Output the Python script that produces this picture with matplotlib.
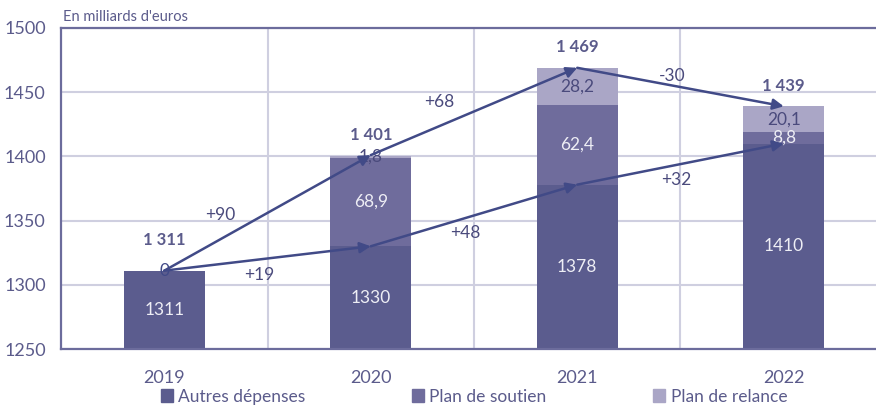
"""Autres dépenses / plan de soutien / plan de relance, 2019-2022."""
import matplotlib.pyplot as plt
from matplotlib.patches import Patch

plt.rcParams["font.family"] = ["Lato", "DejaVu Sans"]

years = ["2019", "2020", "2021", "2022"]
autres = [1311, 1330, 1378, 1410]
soutien = [0, 68.9, 62.4, 8.8]
relance = [0, 1.8, 28.2, 20.1]
totals = [1311, 1401, 1469, 1439]
total_labels = ["1 311", "1 401", "1 469", "1 439"]
soutien_labels = ["0", "68,9", "62,4", "8,8"]
relance_labels = ["", "1,8", "28,2", "20,1"]
# deltas: (label, x position, y position)
deltas_total = [("+90", 0.27, 1354), ("+68", 1.33, 1442), ("-30", 2.46, 1463)]
deltas_autres = [("+19", 0.46, 1308), ("+48", 1.46, 1340), ("+32", 2.48, 1382)]

C_AUTRES = "#5b5c8e"
C_SOUTIEN = "#6f6c9c"
C_RELANCE = "#aaa6c6"
C_LINE = "#414a87"
C_TEXT = "#5b5b8b"
C_GRID = "#cfcfe0"
C_SPINE = "#6c6c9c"

fig = plt.figure(figsize=(8.76, 4.08), dpi=100)
ax = fig.add_axes([61 / 876, 1 - 349 / 408, 1 - 61 / 876, (349 - 28) / 408])

x = list(range(len(years)))
w = 0.39
ax.bar(x, autres, w, color=C_AUTRES, zorder=2)
ax.bar(x, soutien, w, bottom=autres, color=C_SOUTIEN, zorder=2)
bottom2 = [a + s for a, s in zip(autres, soutien)]
ax.bar(x, relance, w, bottom=bottom2, color=C_RELANCE, zorder=2)

ax.set_ylim(1250, 1500)
ax.set_xlim(-0.5, -0.5 + 815 / 206.5)
ax.set_yticks([1250, 1300, 1350, 1400, 1450, 1500])
ax.set_xticks(x)
ax.set_xticklabels(years)
ax.tick_params(length=0, labelsize=13, colors=C_TEXT)
ax.tick_params(axis="x", pad=15)
ax.tick_params(axis="y", pad=11)

ax.grid(axis="y", color=C_GRID, lw=1.5, zorder=0)
for b in [0.5, 1.5, 2.5]:
    ax.axvline(b, color=C_GRID, lw=1.5, zorder=0)
ax.spines["right"].set_visible(False)
for s in ["left", "bottom", "top"]:
    ax.spines[s].set_color(C_SPINE)
    ax.spines[s].set_linewidth(1.6)

# labels inside bars
fs = 12.5
for i in x:
    ax.text(i, (1250 + autres[i]) / 2, str(autres[i]), ha="center", va="center",
            color="#eeeef5", fontsize=fs, zorder=4)
    ax.text(i, autres[i] + soutien[i] / 2, soutien_labels[i], ha="center", va="center",
            color="#eeeef5" if i > 0 else C_LINE, fontsize=fs, zorder=4)
    if relance_labels[i]:
        ax.text(i, bottom2[i] + relance[i] / 2, relance_labels[i], ha="center", va="center",
                color="#4a4a7c", fontsize=fs, zorder=4)
    ax.text(i, totals[i] + 16 if i > 0 else 1335, total_labels[i], ha="center", va="center",
            color=C_TEXT, fontsize=12, fontweight="bold", zorder=4)

# arrows
for series in [totals, autres]:
    for i in range(len(series) - 1):
        ax.annotate("", xy=(i + 1, series[i + 1]), xytext=(i, series[i]),
                    arrowprops=dict(arrowstyle="-|>", color=C_LINE, lw=1.8,
                                    mutation_scale=16, shrinkA=0, shrinkB=0),
                    zorder=5)

for lab, dx, dy in deltas_total + deltas_autres:
    ax.text(dx, dy, lab, ha="center", va="center", color="#4a4a7c", fontsize=fs, zorder=4)

ax.text(0.003, 1.012, "En milliards d'euros", transform=ax.transAxes, ha="left",
        va="bottom", color=C_TEXT, fontsize=10.5)

handles = [Patch(color=C_AUTRES), Patch(color=C_SOUTIEN), Patch(color=C_RELANCE)]
fig.legend(handles, ["Autres dépenses", "Plan de soutien", "Plan de relance"],
           loc="center", bbox_to_anchor=(0.541, 0.028), ncol=3, frameon=False,
           handlelength=0.7, handleheight=0.7, handletextpad=0.3,
           columnspacing=6.15, fontsize=12.5, labelcolor=C_TEXT)

fig.savefig("out.png", dpi=100)
